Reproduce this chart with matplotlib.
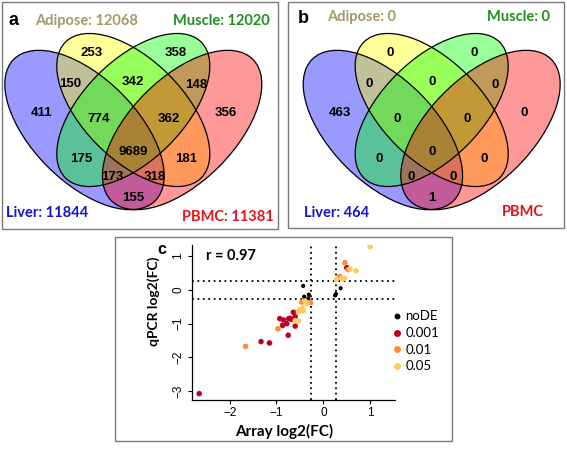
import matplotlib
matplotlib.use("Agg")
import matplotlib.pyplot as plt
from matplotlib.patches import Ellipse, Rectangle
from matplotlib.lines import Line2D

# ====================================================================
# DATA
# ====================================================================
# Venn regions: A = Liver, B = Adipose, C = Muscle, D = PBMC
REGIONS = ["A", "B", "C", "D", "AB", "BC", "CD", "ABC", "BCD",
           "AC", "ABCD", "BD", "ACD", "ABD", "AD"]
COUNTS_A = [411, 253, 358, 356, 150, 342, 148, 774, 362,
            175, 9689, 181, 173, 318, 155]
COUNTS_B = [463, 0, 0, 0, 0, 0, 0, 0, 0,
            0, 0, 0, 0, 0, 1]
CATS_A = ["Liver: 11844", "Adipose: 12068", "Muscle: 12020", "PBMC: 11381"]
CATS_B = ["Liver: 464", "Adipose: 0", "Muscle: 0", "PBMC"]

# panel c: array vs qPCR log2 fold changes, grouped by significance
GROUPS = ["noDE", "0.001", "0.01", "0.05"]
NODE_X = [0.37, 0.27, 0.25, -0.43, -0.41, -0.31, -0.32]
NODE_Y = [0.05, -0.12, -0.16, 0.12, -0.20, -0.14, -0.25]
P001_X = [0.50, -0.64, -0.60, -0.68, -0.71, -0.60, -0.93, -0.85, -0.78,
          -0.74, -0.87, -0.75, -1.33, -1.15, -2.65]
P001_Y = [0.66, -0.66, -0.79, -0.87, -0.84, -1.07, -0.85, -0.89, -1.00,
          -0.85, -1.05, -1.34, -1.53, -1.57, -3.07]
P01_X = [0.46, 0.53, 0.35, -0.46, -0.27, -0.97, -1.66]
P01_Y = [0.81, 0.60, 0.40, -0.36, -0.38, -1.15, -1.67]
P05_X = [1.00, 0.57, 0.70, 0.40, 0.45, 0.28, -0.39, -0.35, -0.50, -0.44,
         -0.43, -0.53, -0.53, -0.60]
P05_Y = [1.28, 0.62, 0.57, 0.34, 0.34, 0.31, -0.33, -0.40, -0.59, -0.54,
         -0.62, -0.65, -0.92, -0.91]
CUTOFF = 0.263          # log2(1.2)
R_TEXT = "r = 0.97"

# ====================================================================
# STYLE / LAYOUT (pixel coordinates, y grows downward)
# ====================================================================
W, H = 567, 450
SET_FILLS = ["blue", "yellow", "#00ff00", "red"]
CAT_COLORS = ["#1414c8", "#a39a6a", "#1f8f1f", "#e3141c"]
GROUP_COLORS = ["black", "#bd0026", "#fd8d3c", "#fecc5c"]

# ellipse (dx from venn centre, cy, width, height, angle) for A, B, C, D
ELL = [(-48.8, 130, 200, 104, 45), (0, 110, 192, 100, 45),
       (0, 110, 192, 100, -45), (48.8, 130, 200, 104, -45)]

REGION_POS = {
    "A": (-91.6, 113.3), "B": (-42, 53), "C": (42, 52.5), "D": (92, 113),
    "AB": (-63, 84), "BC": (0, 82), "CD": (63, 84.5),
    "ABC": (-34.5, 119.5), "BCD": (35, 119.5),
    "AC": (-52.5, 159), "ABCD": (0, 152), "BD": (52.5, 159),
    "ACD": (-20.7, 176.7), "ABD": (21, 176.7), "AD": (0, 198),
}

VENN_FONT = "Liberation Sans"
LABEL_FONT = "Lato"


def draw_venn(ax, cx, counts, cats, cat_pos, tag, tag_pos):
    for (dx, cy, w, h, ang), col in zip(ELL, SET_FILLS):
        ax.add_patch(Ellipse((cx + dx, cy), w, h, angle=ang,
                             facecolor=col, alpha=0.4, edgecolor="none",
                             zorder=2))
    for dx, cy, w, h, ang in ELL:
        ax.add_patch(Ellipse((cx + dx, cy), w, h, angle=ang,
                             fill=False, edgecolor="black", lw=0.9,
                             zorder=3))
    for reg, n in zip(REGIONS, counts):
        dx, y = REGION_POS[reg]
        ax.text(cx + dx, y, str(n), ha="center", va="center", fontsize=9.5,
                fontweight="bold", family=VENN_FONT, zorder=4)
    for name, col, (x, y) in zip(cats, CAT_COLORS, cat_pos):
        ax.text(x, y, name, ha="center", va="center", fontsize=10.5,
                fontweight="bold", family=LABEL_FONT, color=col, zorder=4)
    ax.text(tag_pos[0], tag_pos[1], tag, ha="center", va="center",
            fontsize=13, fontweight="bold", family=VENN_FONT, zorder=4)


fig = plt.figure(figsize=(W / 100, H / 100), dpi=100)
bg = fig.add_axes([0, 0, 1, 1])
bg.set_xlim(0, W)
bg.set_ylim(H, 0)
bg.axis("off")

# panel frames
for x0, y0, x1, y1 in [(2, 2, 278, 229), (288, 2, 564, 228),
                       (115, 237, 452, 441)]:
    bg.add_patch(Rectangle((x0, y0), x1 - x0, y1 - y0, fill=False,
                           edgecolor="#7a7a7a", lw=1.0, zorder=1))

draw_venn(bg, 133.3, COUNTS_A, CATS_A,
          [(46.7, 213.3), (86.7, 20.7), (221.7, 20.7), (227.7, 216.7)],
          "a", (13.3, 20.7))
draw_venn(bg, 431.7, COUNTS_B, CATS_B,
          [(336.7, 213.3), (361.7, 17.3), (518.3, 17.3), (523.3, 211.7)],
          "b", (303.3, 18.3))

# ---- panel c -------------------------------------------------------
ax = fig.add_axes([191.7 / W, 1 - 399.7 / H, (395 - 191.7) / W, 155 / H])
ax.patch.set_alpha(0)
for sp in ["top", "right"]:
    ax.spines[sp].set_visible(False)
for sp in ["left", "bottom"]:
    ax.spines[sp].set_linewidth(0.9)

series = [(NODE_X, NODE_Y, 9), (P001_X, P001_Y, 16),
          (P01_X, P01_Y, 16), (P05_X, P05_Y, 16)]
for (xs, ys, s), col in zip(series, GROUP_COLORS):
    ax.scatter(xs, ys, s=s, color=col, edgecolors="none", zorder=3)

for v in (-CUTOFF, CUTOFF):
    ax.axvline(v, color="black", lw=1.3, ls=(0, (1, 2.0)), zorder=2)
    ax.axhline(v, color="black", lw=1.3, ls=(0, (1, 2.0)), zorder=2)

ax.set_xlim(-2.81, 1.53)
ax.set_ylim(-3.25, 1.34)
ax.set_xticks([-2, -1, 0, 1])
ax.set_yticks([-3, -2, -1, 0, 1])
ax.tick_params(length=3, width=0.8, pad=2.5, labelsize=8.5)
ax.tick_params(axis="y", labelrotation=90)
for lbl in ax.get_yticklabels():
    lbl.set_va("center")
    lbl.set_family(VENN_FONT)
for lbl in ax.get_xticklabels():
    lbl.set_family(VENN_FONT)

bg.text(284, 431, "Array log2(FC)", ha="center", va="center", fontsize=11,
        fontweight="bold", family=LABEL_FONT)
bg.text(153.3, 301, "qPCR log2(FC)", ha="center", va="center", fontsize=10,
        fontweight="bold", family=LABEL_FONT, rotation=90)
bg.text(231, 256, R_TEXT, ha="center", va="center", fontsize=10.5,
        fontweight="bold", family=LABEL_FONT)
bg.text(161.7, 250, "c", ha="center", va="center", fontsize=11.5,
        fontweight="bold", family=VENN_FONT)

handles = [Line2D([0], [0], marker="o", ls="none", color=c,
                  markersize=3.2 if i == 0 else 4)
           for i, c in enumerate(GROUP_COLORS)]
fig.legend(handles, GROUPS, loc="upper left",
           bbox_to_anchor=(393.5 / W, 1 - 310.5 / H), frameon=False,
           handlelength=0.6, handletextpad=0.3,
           labelspacing=0.35, borderpad=0, borderaxespad=0,
           prop={"family": LABEL_FONT, "size": 9.5})

fig.savefig("out.png", dpi=100)
